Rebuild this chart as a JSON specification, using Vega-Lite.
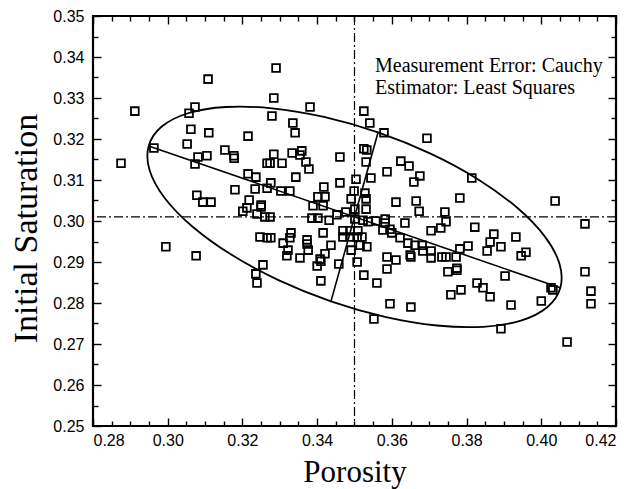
{
 "$schema": "https://vega.github.io/schema/vega-lite/v6.json",
 "autosize": {"type": "none"},
 "padding": {"left": 93, "top": 16, "right": 19, "bottom": 63},
 "width": 523,
 "height": 410,
 "background": "white",
 "config": {
  "view": {"stroke": "black", "strokeWidth": 2.2},
  "axis": {"grid": false, "domain": false, "tickColor": "black", "tickWidth": 1.4, "labelColor": "black", "labelFont": "Liberation Sans", "labelFontSize": 16, "titleFont": "Liberation Serif", "titleFontSize": 31, "titleFontWeight": "normal", "titleColor": "black"}
 },
 "datasets": {
  "pts": [
   {"p":0.3108,"s":0.3346},{"p":0.2912,"s":0.3268},{"p":0.3073,"s":0.3278},{"p":0.3057,"s":0.3263},{"p":0.3062,"s":0.3224},{"p":0.311,"s":0.3215},{"p":0.3215,"s":0.3207},{"p":0.3052,"s":0.3188},{"p":0.2963,"s":0.3178},{"p":0.2875,"s":0.3141},{"p":0.3073,"s":0.3139},{"p":0.3081,"s":0.3156},{"p":0.3105,"s":0.3159},{"p":0.3153,"s":0.3173},{"p":0.3177,"s":0.3159},{"p":0.3178,"s":0.3153},{"p":0.3266,"s":0.3141},{"p":0.3215,"s":0.3115},{"p":0.3236,"s":0.3107},{"p":0.3234,"s":0.3078},{"p":0.318,"s":0.3076},{"p":0.3266,"s":0.308},{"p":0.3078,"s":0.3063},{"p":0.3094,"s":0.3046},{"p":0.3116,"s":0.3046},{"p":0.3218,"s":0.3051},{"p":0.325,"s":0.3039},
   {"p":0.3201,"s":0.3024},{"p":0.3212,"s":0.3032},{"p":0.325,"s":0.3034},{"p":0.3239,"s":0.3017},{"p":0.326,"s":0.301},{"p":0.3247,"s":0.2961},{"p":0.3266,"s":0.2959},{"p":0.2995,"s":0.2937},{"p":0.3076,"s":0.2915},{"p":0.3255,"s":0.2893},{"p":0.3236,"s":0.2871},{"p":0.3239,"s":0.2849},
   {"p":0.329,"s":0.3373},{"p":0.3284,"s":0.33},{"p":0.3381,"s":0.3278},{"p":0.3279,"s":0.3256},{"p":0.3335,"s":0.3239},{"p":0.3341,"s":0.3215},{"p":0.3525,"s":0.3268},{"p":0.3541,"s":0.3239},{"p":0.3579,"s":0.3215},{"p":0.3694,"s":0.3202},{"p":0.3284,"s":0.3163},{"p":0.3306,"s":0.3141},{"p":0.3274,"s":0.3141},{"p":0.3333,"s":0.3166},{"p":0.3359,"s":0.3171},{"p":0.3354,"s":0.3161},{"p":0.337,"s":0.3144},{"p":0.3378,"s":0.3127},{"p":0.3461,"s":0.3156},{"p":0.3525,"s":0.3176},{"p":0.3533,"s":0.3173},{"p":0.3531,"s":0.3144},{"p":0.3624,"s":0.3146},{"p":0.3646,"s":0.3134},{"p":0.3587,"s":0.312},{"p":0.3675,"s":0.311},{"p":0.3659,"s":0.3095},{"p":0.3343,"s":0.3107},{"p":0.3461,"s":0.3093},{"p":0.3504,"s":0.3102},{"p":0.3544,"s":0.3105},{"p":0.3276,"s":0.3093},{"p":0.3303,"s":0.3073},{"p":0.3327,"s":0.3073},{"p":0.3418,"s":0.3083},{"p":0.3402,"s":0.3059},{"p":0.3421,"s":0.3059},{"p":0.3499,"s":0.3073},{"p":0.3528,"s":0.3068},{"p":0.3491,"s":0.3054},{"p":0.3531,"s":0.3054},{"p":0.3611,"s":0.3046},{"p":0.3665,"s":0.3049},
   {"p":0.3814,"s":0.3105},{"p":0.3782,"s":0.3056},{"p":0.4037,"s":0.3049},
   {"p":0.3389,"s":0.3037},{"p":0.3416,"s":0.3037},{"p":0.3501,"s":0.3029},{"p":0.3531,"s":0.3029},{"p":0.3673,"s":0.3024},{"p":0.3274,"s":0.301},{"p":0.3386,"s":0.3007},{"p":0.3402,"s":0.3007},{"p":0.3432,"s":0.3002},{"p":0.3453,"s":0.3015},{"p":0.3477,"s":0.3022},{"p":0.3501,"s":0.3005},{"p":0.3523,"s":0.3002},{"p":0.3536,"s":0.2998},{"p":0.3557,"s":0.3},{"p":0.3582,"s":0.3005},{"p":0.3582,"s":0.2995},{"p":0.3635,"s":0.2995},{"p":0.3705,"s":0.2976},{"p":0.3731,"s":0.2983},{"p":0.3576,"s":0.2978},{"p":0.3595,"s":0.298},{"p":0.36,"s":0.2971},{"p":0.3276,"s":0.2959},{"p":0.333,"s":0.2971},{"p":0.3327,"s":0.2959},{"p":0.3309,"s":0.2946},{"p":0.3322,"s":0.2929},{"p":0.3319,"s":0.2915},{"p":0.3354,"s":0.291},{"p":0.3373,"s":0.2954},{"p":0.3373,"s":0.2944},{"p":0.3376,"s":0.2929},{"p":0.3416,"s":0.2971},{"p":0.3437,"s":0.2941},{"p":0.3421,"s":0.292},{"p":0.3408,"s":0.2907},{"p":0.341,"s":0.2902},{"p":0.34,"s":0.289},{"p":0.3458,"s":0.2895},{"p":0.341,"s":0.2854},{"p":0.3469,"s":0.2976},{"p":0.3469,"s":0.2961},{"p":0.3488,"s":0.2976},{"p":0.3488,"s":0.2961},{"p":0.3509,"s":0.2976},{"p":0.3507,"s":0.2961},{"p":0.352,"s":0.2961},{"p":0.3491,"s":0.2929},{"p":0.3515,"s":0.2941},{"p":0.3533,"s":0.2937},{"p":0.3507,"s":0.29},{"p":0.3525,"s":0.2868},{"p":0.356,"s":0.2849},{"p":0.3587,"s":0.2912},{"p":0.3611,"s":0.2905},{"p":0.3587,"s":0.2883},{"p":0.3595,"s":0.2798},{"p":0.3651,"s":0.279},{"p":0.3552,"s":0.2761},{"p":0.3622,"s":0.2959},{"p":0.3643,"s":0.2946},{"p":0.3662,"s":0.2941},{"p":0.3649,"s":0.2917},{"p":0.3651,"s":0.2912},{"p":0.3681,"s":0.2941},{"p":0.3683,"s":0.2927},{"p":0.3705,"s":0.2927},{"p":0.3705,"s":0.291},{"p":0.3734,"s":0.2912},
   {"p":0.3742,"s":0.3022},{"p":0.3745,"s":0.2998},{"p":0.3822,"s":0.2985},{"p":0.4117,"s":0.2993},{"p":0.3873,"s":0.2968},{"p":0.3863,"s":0.2949},{"p":0.3855,"s":0.2927},{"p":0.3892,"s":0.2937},{"p":0.3932,"s":0.2961},{"p":0.3804,"s":0.2939},{"p":0.3782,"s":0.2932},{"p":0.3772,"s":0.2912},{"p":0.3745,"s":0.2912},{"p":0.3959,"s":0.2924},{"p":0.3946,"s":0.2915},{"p":0.375,"s":0.2876},{"p":0.3774,"s":0.288},{"p":0.3774,"s":0.2885},{"p":0.3903,"s":0.2866},{"p":0.4117,"s":0.2876},{"p":0.3828,"s":0.2849},{"p":0.3844,"s":0.2837},{"p":0.3863,"s":0.2815},{"p":0.3785,"s":0.2832},{"p":0.3758,"s":0.282},{"p":0.4031,"s":0.2832},{"p":0.4026,"s":0.2837},{"p":0.4133,"s":0.2829},{"p":0.4133,"s":0.2798},{"p":0.4,"s":0.2805},{"p":0.3919,"s":0.2795},{"p":0.3892,"s":0.2737},{"p":0.4069,"s":0.2705}
  ],
  "ell": [
   {"k":0,"p":0.4051,"s":0.2837},{"k":1,"p":0.40485,"s":0.28962},{"k":2,"p":0.40087,"s":0.29632},{"k":3,"p":0.39341,"s":0.30334},{"k":4,"p":0.38301,"s":0.31019},{"k":5,"p":0.37035,"s":0.31642},{"k":6,"p":0.3563,"s":0.3216},{"k":7,"p":0.34183,"s":0.32538},{"k":8,"p":0.32791,"s":0.32749},{"k":9,"p":0.31549,"s":0.3278},{"k":10,"p":0.30543,"s":0.32628},{"k":11,"p":0.29841,"s":0.32304},{"k":12,"p":0.2949,"s":0.3183},{"k":13,"p":0.29515,"s":0.31238},{"k":14,"p":0.29913,"s":0.30568},{"k":15,"p":0.30659,"s":0.29866},{"k":16,"p":0.31699,"s":0.29181},{"k":17,"p":0.32965,"s":0.28558},{"k":18,"p":0.3437,"s":0.2804},{"k":19,"p":0.35817,"s":0.27662},{"k":20,"p":0.37209,"s":0.27451},{"k":21,"p":0.38451,"s":0.2742},{"k":22,"p":0.39457,"s":0.27572},{"k":23,"p":0.40159,"s":0.27896}
  ],
  "seg": [
   {"p":0.4051,"s":0.2837,"p2":0.2949,"s2":0.3183},
   {"p":0.3563,"s":0.3216,"p2":0.3437,"s2":0.2804}
  ],
  "vline": [{"p":0.35}],
  "hline": [{"s":0.301}],
  "notes": [
   {"p":0.3555,"s":0.3363,"t":"Measurement Error: Cauchy"},
   {"p":0.3555,"s":0.331,"t":"Estimator: Least Squares"}
  ]
 },
 "resolve": {"axis": {"x": "independent", "y": "independent"}},
 "layer": [
  {
   "data": {"name": "vline"},
   "mark": {"type": "rule", "color": "black", "strokeWidth": 1.2, "strokeDash": [9, 3, 2, 3]},
   "encoding": {
    "x": {"field": "p", "type": "quantitative", "scale": {"domain": [0.28, 0.42], "nice": false, "zero": false},
     "axis": {"orient": "top", "values": [0.28, 0.30, 0.32, 0.34, 0.36, 0.38, 0.40, 0.42], "labels": false, "tickSize": -8, "title": null}}
   }
  },
  {
   "data": {"name": "hline"},
   "mark": {"type": "rule", "color": "black", "strokeWidth": 1.2, "strokeDash": [9, 3, 2, 3]},
   "encoding": {
    "y": {"field": "s", "type": "quantitative", "scale": {"domain": [0.25, 0.35], "nice": false, "zero": false},
     "axis": {"orient": "right", "values": [0.25, 0.26, 0.27, 0.28, 0.29, 0.30, 0.31, 0.32, 0.33, 0.34, 0.35], "labels": false, "tickSize": -8, "title": null}}
   }
  },
  {
   "data": {"name": "ell"},
   "mark": {"type": "line", "color": "black", "strokeWidth": 1.8, "interpolate": "cardinal-closed"},
   "encoding": {
    "x": {"field": "p", "type": "quantitative", "scale": {"domain": [0.28, 0.42], "nice": false, "zero": false},
     "axis": {"orient": "bottom", "values": [0.285, 0.29, 0.295, 0.305, 0.31, 0.315, 0.325, 0.33, 0.335, 0.345, 0.35, 0.355, 0.365, 0.37, 0.375, 0.385, 0.39, 0.395, 0.405, 0.41, 0.415], "labels": false, "tickSize": -5, "title": null}},
    "y": {"field": "s", "type": "quantitative", "scale": {"domain": [0.25, 0.35], "nice": false, "zero": false},
     "axis": {"orient": "left", "values": [0.255, 0.265, 0.275, 0.285, 0.295, 0.305, 0.315, 0.325, 0.335, 0.345], "labels": false, "tickSize": -5, "title": null}},
    "order": {"field": "k", "type": "quantitative"}
   }
  },
  {
   "data": {"name": "seg"},
   "mark": {"type": "rule", "color": "black", "strokeWidth": 1.6},
   "encoding": {
    "x": {"field": "p", "type": "quantitative", "scale": {"domain": [0.28, 0.42], "nice": false, "zero": false},
     "axis": {"orient": "top", "values": [0.285, 0.29, 0.295, 0.305, 0.31, 0.315, 0.325, 0.33, 0.335, 0.345, 0.35, 0.355, 0.365, 0.37, 0.375, 0.385, 0.39, 0.395, 0.405, 0.41, 0.415], "labels": false, "tickSize": -5, "title": null}},
    "y": {"field": "s", "type": "quantitative", "scale": {"domain": [0.25, 0.35], "nice": false, "zero": false},
     "axis": {"orient": "right", "values": [0.255, 0.265, 0.275, 0.285, 0.295, 0.305, 0.315, 0.325, 0.335, 0.345], "labels": false, "tickSize": -5, "title": null}},
    "x2": {"field": "p2"},
    "y2": {"field": "s2"}
   }
  },
  {
   "data": {"name": "pts"},
   "mark": {"type": "point", "shape": "square", "filled": false, "stroke": "black", "strokeWidth": 1.8, "size": 60, "opacity": 1},
   "encoding": {
    "x": {"field": "p", "type": "quantitative", "scale": {"domain": [0.28, 0.42], "nice": false, "zero": false},
     "axis": {"orient": "bottom", "values": [0.28, 0.30, 0.32, 0.34, 0.36, 0.38, 0.40, 0.42], "format": ".2f", "tickSize": -8, "labelPadding": 14, "title": "Porosity", "titleY": 55, "titleBaseline": "alphabetic"}},
    "y": {"field": "s", "type": "quantitative", "scale": {"domain": [0.25, 0.35], "nice": false, "zero": false},
     "axis": {"orient": "left", "values": [0.25, 0.26, 0.27, 0.28, 0.29, 0.30, 0.31, 0.32, 0.33, 0.34, 0.35], "format": ".2f", "tickSize": -8, "labelPadding": 17, "title": "Initial Saturation", "titleFontSize": 34, "titleX": -57, "titleY": 212, "titleBaseline": "alphabetic"}}
   }
  },
  {
   "data": {"name": "notes"},
   "mark": {"type": "text", "align": "left", "baseline": "alphabetic", "font": "Liberation Serif", "fontSize": 20, "color": "black"},
   "encoding": {
    "x": {"field": "p", "type": "quantitative", "scale": {"domain": [0.28, 0.42], "nice": false, "zero": false}, "axis": null},
    "y": {"field": "s", "type": "quantitative", "scale": {"domain": [0.25, 0.35], "nice": false, "zero": false}, "axis": null},
    "text": {"field": "t"}
   }
  }
 ]
}
